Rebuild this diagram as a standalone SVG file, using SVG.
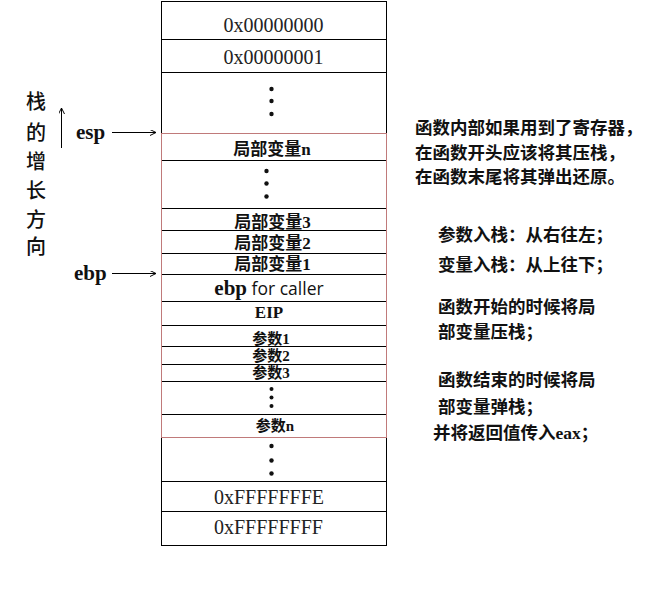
<svg xmlns="http://www.w3.org/2000/svg" width="651" height="606" viewBox="0 0 651 606">
<defs>
<marker id="arr" markerWidth="8" markerHeight="8" refX="6" refY="3" orient="auto" markerUnits="userSpaceOnUse">
<path d="M0,0 L6,3 L0,6" fill="none" stroke="#000" stroke-width="1"/>
</marker>
<style>
.cell{fill:#fff;stroke:#000;stroke-width:1}
.hex{font-family:"Liberation Serif",serif;font-size:20px;fill:#222;text-anchor:middle}
.cjk{font-family:"Liberation Serif","Noto Sans CJK SC",serif;font-weight:bold;font-size:17px;fill:#111;text-anchor:middle}
.par{font-family:"Liberation Serif","Noto Sans CJK SC",serif;font-weight:bold;font-size:15px;fill:#111;text-anchor:middle}
.dot{fill:#111}
.reg{font-family:"Liberation Serif",serif;font-weight:bold;font-size:21px;fill:#111}
.side{font-family:"Noto Sans CJK SC",sans-serif;font-weight:500;font-size:20px;fill:#111;text-anchor:middle}
.note{font-family:"Liberation Serif","Noto Sans CJK SC",sans-serif;font-weight:600;font-size:17.5px;fill:#111}
.conn{stroke:#000;stroke-width:1;fill:none}
</style>
</defs>
<rect width="651" height="606" fill="#fff"/>

<g id="cell-0x00000000"><rect class="cell" x="161.5" y="1.5" width="225" height="38"/><text class="hex" x="273.5" y="31.5">0x00000000</text></g>
<g id="cell-0x00000001"><rect class="cell" x="161.5" y="39.5" width="225" height="33"/><text class="hex" x="273.5" y="64">0x00000001</text></g>
<g id="cell-dots1"><rect class="cell" x="161.5" y="72.5" width="225" height="61"/><circle class="dot" cx="271.5" cy="89" r="2.2"/><circle class="dot" cx="271.5" cy="101" r="2.2"/><circle class="dot" cx="271.5" cy="114" r="2.2"/></g>
<g id="cell-localn"><rect class="cell" x="161.5" y="133.5" width="225" height="27"/><text class="cjk" x="272" y="154.5">局部变量n</text></g>
<g id="cell-dots2"><rect class="cell" x="161.5" y="160.5" width="225" height="48"/><circle class="dot" cx="266.5" cy="171" r="2.2"/><circle class="dot" cx="266.5" cy="183.5" r="2.2"/><circle class="dot" cx="266.5" cy="196.5" r="2.2"/></g>
<g id="cell-local3"><rect class="cell" x="161.5" y="208.5" width="225" height="22"/><text class="cjk" x="272.5" y="227.5">局部变量3</text></g>
<g id="cell-local2"><rect class="cell" x="161.5" y="230.5" width="225" height="23"/><text class="cjk" x="272.5" y="249">局部变量2</text></g>
<g id="cell-local1"><rect class="cell" x="161.5" y="253.5" width="225" height="21"/><text class="cjk" x="272.5" y="269.5">局部变量1</text></g>
<g id="cell-ebp-caller"><rect class="cell" x="161.5" y="274.5" width="225" height="27"/><text x="269" y="294.5" text-anchor="middle"><tspan style="font-family:'Liberation Serif',serif;font-weight:bold;font-size:21px;fill:#111">ebp</tspan><tspan style="font-family:'Open Sans',sans-serif;font-size:17.5px;fill:#111"> for caller</tspan></text></g>
<g id="cell-eip"><rect class="cell" x="161.5" y="301.5" width="225" height="24"/><text x="269" y="318" text-anchor="middle" style="font-family:'Liberation Serif',serif;font-weight:bold;font-size:17px;fill:#111">EIP</text></g>
<g id="cell-arg1"><rect class="cell" x="161.5" y="325.5" width="225" height="21"/><text class="par" x="271" y="343.5">参数1</text></g>
<g id="cell-arg2"><rect class="cell" x="161.5" y="346.5" width="225" height="18"/><text class="par" x="271" y="361">参数2</text></g>
<g id="cell-arg3"><rect class="cell" x="161.5" y="364.5" width="225" height="17"/><text class="par" x="271" y="378">参数3</text></g>
<g id="cell-dots3"><rect class="cell" x="161.5" y="381.5" width="225" height="33"/><circle class="dot" cx="271.5" cy="389" r="2"/><circle class="dot" cx="271.5" cy="397.5" r="2"/><circle class="dot" cx="271.5" cy="406" r="2"/></g>
<g id="cell-argn"><rect class="cell" x="161.5" y="414.5" width="225" height="23"/><text class="par" x="275" y="430.5">参数n</text></g>
<g id="cell-dots4"><rect class="cell" x="161.5" y="437.5" width="225" height="44"/><circle class="dot" cx="271.5" cy="446" r="2.2"/><circle class="dot" cx="271.5" cy="460.5" r="2.2"/><circle class="dot" cx="271.5" cy="473.5" r="2.2"/></g>
<g id="cell-0xFFFFFFFE"><rect class="cell" x="161.5" y="481.5" width="225" height="30"/><text class="hex" x="269" y="504">0xFFFFFFFE</text></g>
<g id="cell-0xFFFFFFFF"><rect class="cell" x="161.5" y="511.5" width="225" height="34"/><text class="hex" x="268.5" y="533.5">0xFFFFFFFF</text></g>

<g id="stack-frame"><rect x="161.5" y="133.5" width="225" height="304" fill="none" stroke="#c07a7a" stroke-width="1"/></g>

<g id="growth-label">
<text class="side" x="36" y="109">栈</text>
<text class="side" x="36" y="140">的</text>
<text class="side" x="36" y="169">增</text>
<text class="side" x="36" y="197.5">长</text>
<text class="side" x="36" y="227">方</text>
<text class="side" x="36" y="254">向</text>
</g>
<g id="esp-label"><text class="reg" x="76" y="138.5">esp</text></g>
<g id="ebp-label"><text class="reg" x="74" y="279.5">ebp</text></g>

<g id="connectors">
<line class="conn" x1="61.5" y1="148" x2="61.5" y2="108" marker-end="url(#arr)"/>
<line class="conn" x1="112" y1="132.5" x2="156" y2="132.5" marker-end="url(#arr)"/>
<line class="conn" x1="112" y1="273.5" x2="156" y2="273.5" marker-end="url(#arr)"/>
</g>

<g id="note-registers">
<text class="note" x="415" y="134">函数内部如果用到了寄存器，</text>
<text class="note" x="415" y="158.5">在函数开头应该将其压栈，</text>
<text class="note" x="415" y="183">在函数末尾将其弹出还原。</text>
</g>
<g id="note-order">
<text class="note" x="438" y="241">参数入栈：从右往左；</text>
<text class="note" x="438" y="271">变量入栈：从上往下；</text>
</g>
<g id="note-push">
<text class="note" x="438" y="313">函数开始的时候将局</text>
<text class="note" x="438" y="338">部变量压栈；</text>
</g>
<g id="note-pop">
<text class="note" x="438" y="386">函数结束的时候将局</text>
<text class="note" x="438" y="413">部变量弹栈；</text>
<text class="note" x="433" y="439">并将返回值传入<tspan font-weight="bold">eax</tspan>；</text>
</g>
</svg>
